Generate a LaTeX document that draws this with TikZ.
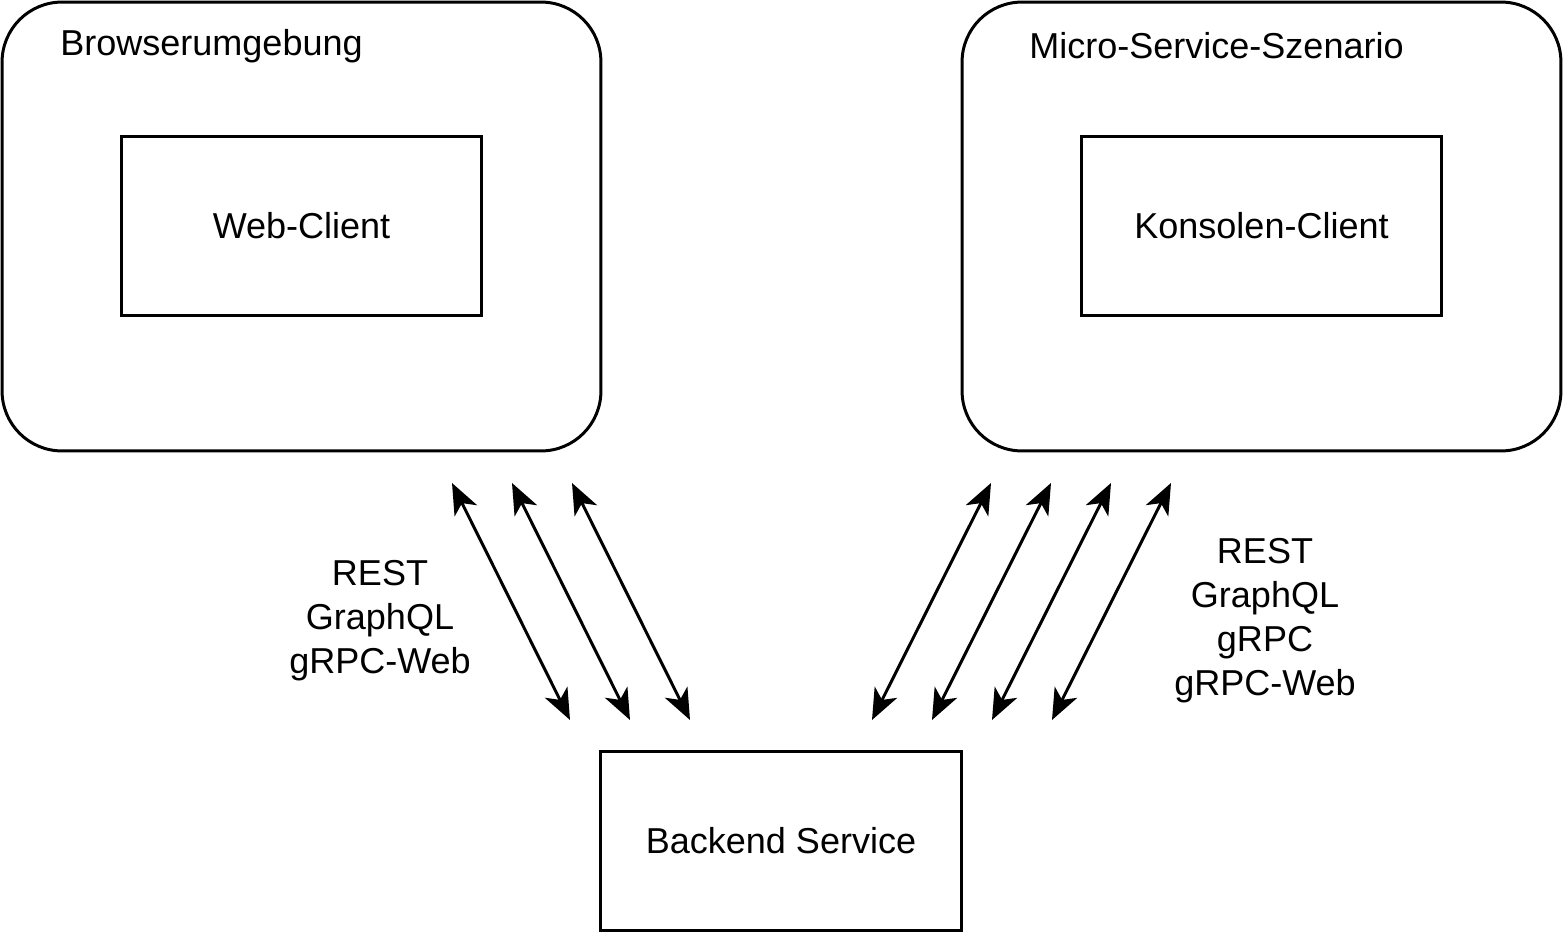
\documentclass[tikz,border=0pt]{standalone}
\usepackage{fontspec}
\setmainfont{Liberation Sans}
\usetikzlibrary{arrows.meta, positioning}
\tikzset{
  base/.style = {
    draw, line width=1.7pt, inner sep=0pt,
    font=\fontsize{20.5}{25}\selectfont, align=center
  },
  area/.style = {
    base, minimum width=11.98cm, minimum height=8.98cm,
    rounded corners=1.2cm
  },
  client/.style = {
    base, minimum width=7.22cm, minimum height=3.6cm
  },
  title/.style = {
    font=\fontsize{20.5}{25}\selectfont, anchor=west, inner sep=0pt
  },
  proto/.style = {
    font=\fontsize{20.5}{25}\selectfont, align=center, inner sep=0pt
  },
  arrow/.style = {
    line width=1.7pt,
    {Stealth[length=0.62cm, width=0.5cm, inset=0.17cm]}-{Stealth[length=0.62cm, width=0.5cm, inset=0.17cm]}
  }
}

\begin{document}
\begin{tikzpicture}[x=0.02cm, y=-0.02cm]
  \useasboundingbox (0,0) rectangle (1563,933);

  % Environments
  \node[area] (browser) at (301.5,226.5) {};
  \node[title] (browsertitle) at (60,46) {Browserumgebung};
  \node[area] (micro) at (1261.5,226.5) {};
  \node[title] (microtitle) at (1029,46) {Micro-Service-Szenario};

  % Clients and backend
  \node[client] (webclient) at (301.5,226) {Web-Client};
  \node[client] (konsole) at (1261.5,226) {Konsolen-Client};
  \node[client] (backend) at (781,841) {Backend Service};

  % Protocols
  \node[proto] (webproto) at (380,621) {REST\\GraphQL\\gRPC-Web};
  \node[proto] (konsoleproto) at (1265,621) {REST\\GraphQL\\gRPC\\gRPC-Web};

  % Arrows left
  \foreach \i/\x in {1/452, 2/512, 3/572} {
    \coordinate (lt\i) at (\x,483);
    \coordinate (lb\i) at (\x+118,720);
    \draw[arrow] (lt\i) -- (lb\i);
  }

  % Arrows right
  \foreach \i/\x in {1/991, 2/1051, 3/1111, 4/1171} {
    \coordinate (rt\i) at (\x,483);
    \coordinate (rb\i) at (\x-119,720);
    \draw[arrow] (rt\i) -- (rb\i);
  }

\end{tikzpicture}
\end{document}
